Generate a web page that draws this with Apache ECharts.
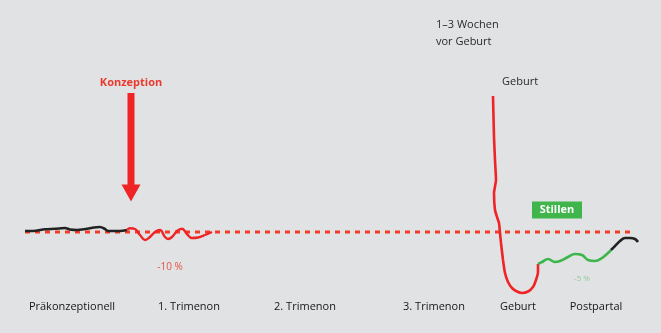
<!DOCTYPE html>
<html><head><meta charset="utf-8">
<script src="https://cdn.jsdelivr.net/npm/echarts@6/dist/echarts.min.js"></script>
<style>html,body{margin:0;padding:0;background:#e1e2e4}#c{width:661px;height:333px}</style>
</head><body><div id="c"></div>
<script>
// Phases (x-axis categories) and their positions on the time axis
var phases = ['Präkonzeptionell', '1. Trimenon', '2. Trimenon', '3. Trimenon', 'Geburt', 'Postpartal'];
var phaseX = [72, 189, 305, 434, 518, 596];
var phaseLabelLevel = -75;

// Level relative to baseline (0 = dashed reference line)
var preconception = [[25,1],[33,1],[45,2.7],[55,3.2],[65,4],[70,2.5],[77,2],[87,3.3],[100,5],[105,3],[108,1],[120,1],[127,2]];
var pregnancy = [[127,2],[130,3.7],[135,3],[140,-3],[145,-8],[150,-5],[155,0],[160,2],[165,-5],[168,-7],[172,-5],[177,1],[182,3.3],[187,-2],[192,-6],[198,-5.5],[205,-3],[212,0]];
var birth = [[493,136],[494,95],[495,72],[496,52],[494,39],[495,22],[497,15],[499,9],[500,-1],[501,-11],[503,-28],[505,-41],[508,-50],[512,-56],[517,-59.5],[522,-61],[528,-59.5],[533,-55],[536,-48],[538,-40],[538,-32]];
var breastfeeding = [[538,-32],[542,-30],[548,-27],[555,-30],[560,-29],[568,-25],[575,-22],[582,-23],[588,-28],[595,-29],[602,-26],[608,-21],[611,-18]];
var postpartum = [[611,-18],[615,-14],[620,-9],[625,-6],[630,-6],[635,-7],[638,-10]];
var baseline = [[25,0],[634,0]];

// Annotations
var arrowShaft = [[131,139],[131,46]];
var arrowHead = [[131,39]];
var annotations = [
  {name:'Konzeption', x:131, y:149},
  {name:'1–3 Wochen', x:436, y:207},
  {name:'vor Geburt', x:436, y:190},
  {name:'Geburt', x:502, y:150},
  {name:'-10 %', x:170, y:-35},
  {name:'-5 %', x:582, y:-47}
];
var stillen = {name:'Stillen', x:557, y:22};

var chart = echarts.init(document.getElementById('c'));
var font = '"Open Sans", Lato, sans-serif';
function txt(a, style, align){
  return {type:'scatter', symbolSize:0, silent:true, data:[[a.x,a.y]], itemStyle:{opacity:1},
    label:Object.assign({show:true, position:'inside', formatter:a.name, align:align||'center', verticalAlign:'middle', fontFamily:font}, style)};
}
var red = '#ee2427', green = '#3cb54a', black = '#222222';
var series = [
  {type:'line', data:baseline, symbol:'none', lineStyle:{color:'#f23c26', width:3, type:[5,5]}, z:1},
  {type:'line', data:preconception, symbol:'none', smooth:0.3, lineStyle:{color:black, width:2.6}},
  {type:'line', data:pregnancy, symbol:'none', smooth:0.4, lineStyle:{color:red, width:2.4}},
  {type:'line', data:birth, symbol:'none', smooth:0.15, lineStyle:{color:red, width:2.6}},
  {type:'line', data:breastfeeding, symbol:'none', smooth:0.4, lineStyle:{color:green, width:2.6}},
  {type:'line', data:postpartum, symbol:'none', smooth:0.4, lineStyle:{color:black, width:2.6}},
  {type:'line', data:arrowShaft, symbol:'none', lineStyle:{color:red, width:7, cap:'butt'}},
  {type:'scatter', data:arrowHead, symbol:'triangle', symbolRotate:180, symbolSize:[19,17], itemStyle:{color:red, opacity:1}},
  txt(annotations[0], {color:'#ea3a2e', fontSize:11, fontWeight:'bold'}),
  txt(annotations[1], {color:'#2a2a2a', fontSize:11}, 'left'),
  txt(annotations[2], {color:'#2a2a2a', fontSize:11}, 'left'),
  txt(annotations[3], {color:'#2a2a2a', fontSize:11}, 'left'),
  txt(annotations[4], {color:'rgba(234,58,46,0.85)', fontSize:10}),
  txt(annotations[5], {color:'rgba(60,181,74,0.5)', fontSize:8}),
  {type:'scatter', data:[[stillen.x, stillen.y]], symbol:'rect', symbolSize:[50,17], itemStyle:{color:'#3fb54c', opacity:1},
    label:{show:true, position:'inside', formatter:stillen.name, color:'#fff', fontSize:11, fontWeight:'bold', fontFamily:font}},
  {type:'scatter', symbolSize:0, silent:true, itemStyle:{opacity:1}, data:phases.map(function(p,i){return [phaseX[i], phaseLabelLevel, p];}),
    label:{show:true, position:'inside', formatter:function(d){return d.data[2];}, color:'#161616', fontSize:11, fontWeight:500, fontFamily:font}}
];
chart.setOption({
  backgroundColor:'#e1e2e4',
  animation:false,
  grid:{left:0, right:0, top:0, bottom:0},
  xAxis:{type:'value', min:0, max:661, show:false},
  yAxis:{type:'value', min:-101, max:232, show:false},
  series:series
});
</script></body></html>
